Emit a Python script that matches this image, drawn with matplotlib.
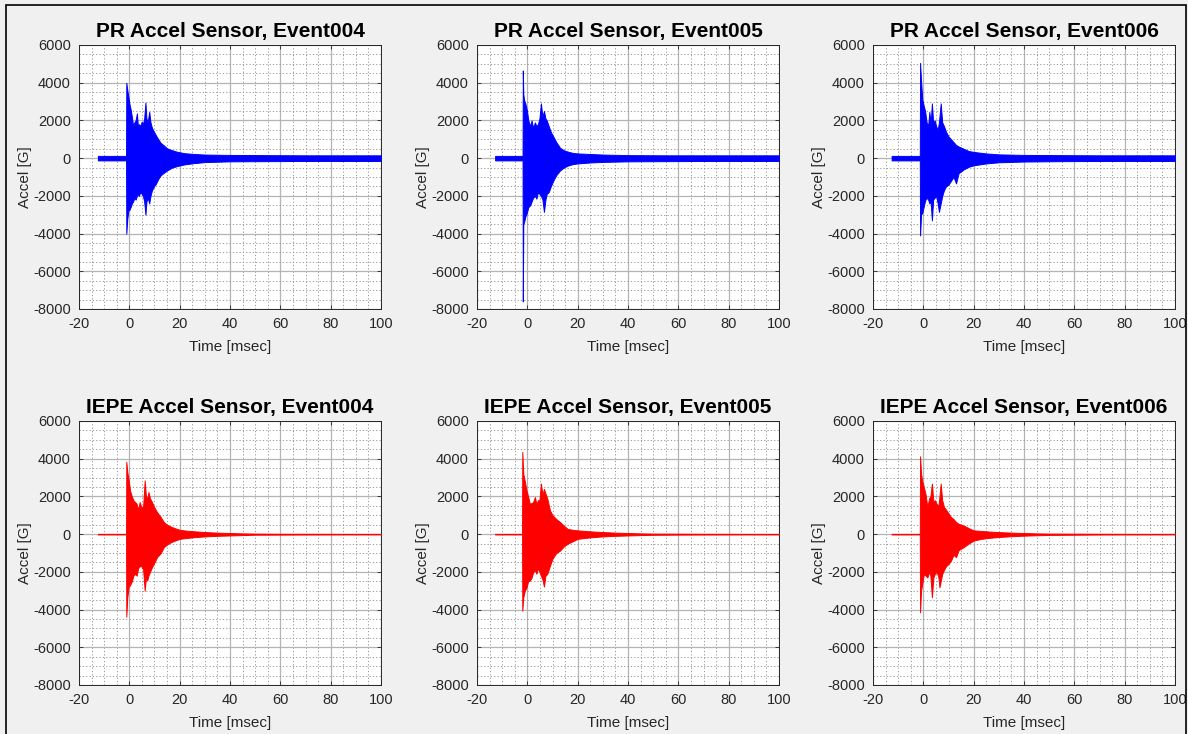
import matplotlib
matplotlib.use("Agg")
import matplotlib.pyplot as plt
from matplotlib.patches import Rectangle
from matplotlib.ticker import MultipleLocator

plt.rcParams["font.family"] = ["Liberation Sans", "DejaVu Sans"]
plt.rcParams["axes.unicode_minus"] = False

# Peak envelopes (upper / lower, in G) of each acceleration record vs time [msec]
pr004_t = [-12.5, -1.3, -1.2, -0.8, -0.4, 0.0, 0.5, 1.0, 1.5, 2.0, 2.5, 3.0, 3.4, 3.8, 4.3, 4.9,
           5.4, 5.9, 6.4, 6.8, 7.3, 7.9, 8.4, 9.0, 9.8, 10.6, 11.5, 12.5, 13.5, 15, 17, 19, 22, 26,
           30, 40, 55, 70, 85, 100]
pr004_up = [120, 120, 4000, 3600, 3300, 2900, 2600, 2200, 1700, 1900, 2000, 2370, 1700, 1800, 1700,
            1930, 1800, 2100, 2950, 2100, 1900, 2460, 1900, 1600, 1400, 1200, 1000, 800, 700, 520,
            420, 340, 260, 220, 190, 170, 160, 150, 150, 150]
pr004_lo = [-120, -120, -4000, -3200, -2800, -2750, -2600, -2400, -2300, -2100, -2200, -2000,
            -1900, -2000, -1800, -1900, -2000, -2300, -3000, -2300, -2100, -2400, -2000, -1700,
            -1500, -1350, -1100, -900, -800, -650, -500, -420, -330, -260, -210, -170, -160,
            -150, -150, -150]

pr005_t = [-12.8, -1.9, -1.8, -1.6, -1.3, -0.8, -0.2, 0.4, 1.1, 1.7, 2.3, 3.0, 3.6, 4.2, 4.8, 5.4,
           6.0, 6.6, 7.2, 7.7, 8.5, 9.3, 10.3, 11.5, 13, 14.5, 16, 18, 20, 25, 30, 40, 55, 70, 85,
           100]
pr005_up = [120, 120, 4650, 3400, 3100, 2900, 2550, 2000, 1700, 2000, 1600, 1900, 1700, 1800,
            2100, 2900, 2200, 2500, 2100, 2000, 1700, 1400, 1150, 850, 550, 420, 350, 280, 250,
            220, 190, 160, 150, 150, 150, 150]
pr005_lo = [-120, -120, -7600, -3500, -3400, -3100, -2900, -2600, -2500, -2300, -2100, -2000,
            -2150, -1800, -1900, -2000, -2200, -2850, -2200, -1900, -1800, -1500, -1200, -900,
            -650, -500, -400, -320, -280, -230, -200, -170, -160, -150, -150, -150]

pr006_t = [-12.6, -1.4, -1.3, -0.9, -0.4, 0.1, 0.7, 1.3, 1.9, 2.4, 2.9, 3.4, 3.9, 4.5, 5.1, 5.7,
           6.2, 6.9, 7.5, 8.2, 9.0, 10.0, 11.0, 12.0, 13.0, 14.0, 16.0, 18, 20, 25, 30, 40, 55,
           70, 85, 100]
pr006_up = [120, 120, 5050, 4100, 3100, 2800, 2500, 1900, 1700, 2450, 1800, 2900, 1900, 2000,
            1700, 1500, 1900, 2900, 1900, 1700, 1400, 1150, 1000, 850, 700, 620, 500, 380, 330,
            250, 200, 170, 160, 150, 150, 150]
pr006_lo = [-120, -120, -4100, -3000, -2900, -2600, -2250, -2100, -2200, -2400, -2300, -3300,
            -2200, -2100, -2000, -2400, -2850, -2400, -2000, -1700, -1500, -1400, -1200, -1000,
            -1340, -800, -600, -460, -380, -280, -220, -180, -160, -150, -150, -150]

iepe004_t = [-12.5, -1.3, -1.2, -0.8, -0.3, 0.3, 1.0, 1.6, 2.3, 2.9, 3.5, 4.1, 4.8, 5.5, 6.1,
             6.6, 7.1, 7.6, 8.2, 9.0, 10, 11, 12.5, 13.7, 15, 16.5, 18, 20, 23, 26, 30, 35, 40,
             45, 50, 60, 70, 85, 100]
iepe004_up = [15, 15, 3830, 3300, 2900, 2300, 2000, 1800, 1700, 1610, 1300, 1700, 1400, 1500,
              2850, 2000, 1900, 2230, 1900, 1700, 1400, 1170, 900, 640, 500, 400, 320, 230, 180,
              150, 110, 80, 60, 40, 30, 20, 20, 15, 15]
iepe004_lo = [-15, -15, -4380, -3350, -2800, -2700, -2500, -2200, -2100, -2200, -1800, -1700,
              -1700, -1900, -3000, -2300, -2460, -2200, -2000, -1750, -1500, -1220, -1000, -690,
              -550, -430, -350, -250, -200, -160, -120, -90, -70, -50, -30, -25, -20, -15, -15]

iepe005_t = [-12.8, -2.1, -2.0, -1.6, -1.0, -0.3, 0.3, 1.0, 1.7, 2.3, 3.0, 3.6, 4.2, 4.8, 5.4,
             6.0, 6.6, 7.2, 7.9, 9.0, 10, 11.5, 13, 14.5, 16, 18, 20, 23, 26, 30, 35, 40, 45, 50,
             60, 70, 85, 100]
iepe005_up = [15, 15, 4360, 3200, 2800, 2300, 2000, 1610, 1650, 1700, 1970, 1600, 1800, 1800,
              2680, 2100, 2400, 2150, 1900, 1260, 1000, 800, 640, 450, 280, 230, 200, 170, 140,
              110, 80, 60, 40, 30, 25, 20, 15, 15]
iepe005_lo = [-15, -15, -4060, -3350, -3000, -2820, -2500, -2460, -2300, -2020, -1900, -2100,
              -1800, -2000, -2200, -2400, -2780, -2200, -2110, -1670, -1300, -1000, -870, -650,
              -510, -380, -250, -200, -160, -120, -90, -70, -50, -35, -25, -20, -15, -15]

iepe006_t = [-12.6, -1.4, -1.3, -0.9, -0.4, 0.2, 0.9, 1.6, 2.3, 2.8, 3.4, 4.0, 4.6, 5.3, 6.0,
             6.4, 6.9, 7.5, 8.2, 9.0, 10.0, 11.0, 12.0, 13.0, 14.0, 16.0, 18, 20, 23, 26, 30, 35,
             40, 45, 50, 60, 70, 85, 100]
iepe006_up = [15, 15, 4130, 3210, 2800, 2500, 2100, 1440, 1900, 2000, 2680, 1700, 1800, 1600,
              1500, 2000, 2680, 1800, 1440, 1300, 1100, 900, 800, 640, 550, 460, 320, 200, 170,
              140, 110, 80, 60, 40, 30, 25, 20, 15, 15]
iepe006_lo = [-15, -15, -4150, -3000, -2600, -2110, -2200, -2300, -2000, -2200, -3350, -2300,
              -2100, -2000, -2300, -2820, -2500, -2110, -1900, -1700, -1580, -1400, -1100, -1220,
              -850, -690, -500, -340, -250, -200, -150, -110, -80, -60, -40, -30, -20, -15, -15]

titles = ["PR Accel Sensor, Event004", "PR Accel Sensor, Event005", "PR Accel Sensor, Event006",
          "IEPE Accel Sensor, Event004", "IEPE Accel Sensor, Event005",
          "IEPE Accel Sensor, Event006"]
x_ticks = [-20, 0, 20, 40, 60, 80, 100]
y_ticks = [-8000, -6000, -4000, -2000, 0, 2000, 4000, 6000]

records = [
    (pr004_t, pr004_up, pr004_lo, "#0000ff"),
    (pr005_t, pr005_up, pr005_lo, "#0000ff"),
    (pr006_t, pr006_up, pr006_lo, "#0000ff"),
    (iepe004_t, iepe004_up, iepe004_lo, "#ff0000"),
    (iepe005_t, iepe005_up, iepe005_lo, "#ff0000"),
    (iepe006_t, iepe006_up, iepe006_lo, "#ff0000"),
]

W, H = 1188, 734
fig = plt.figure(figsize=(W / 100, H / 100), dpi=100, facecolor="#f0f0f0")

col_left = [79, 477, 873]
row_top = [45, 421]
ax_w, ax_h = 302, 264

for i, (t, up, lo, color) in enumerate(records):
    r, c = divmod(i, 3)
    left = col_left[c] / W
    bottom = 1 - (row_top[r] + ax_h) / H
    ax = fig.add_axes([left, bottom, ax_w / W, ax_h / H])
    ax.set_facecolor("white")

    ax.fill_between(t, lo, up, color=color, linewidth=0.7, edgecolor=color, zorder=3)

    ax.set_xlim(-20, 100)
    ax.set_ylim(-8000, 6000)
    ax.set_xticks(x_ticks)
    ax.set_yticks(y_ticks)
    ax.xaxis.set_minor_locator(MultipleLocator(5))
    ax.yaxis.set_minor_locator(MultipleLocator(500))
    ax.grid(which="major", color="#b4b4b4", linewidth=0.9, linestyle="-", zorder=0)
    ax.grid(which="minor", color="#8c8c8c", linewidth=0.6, linestyle=(0, (1.5, 2.5)), zorder=0)
    ax.set_axisbelow(True)

    ax.tick_params(which="major", direction="in", length=3, width=0.6, top=True, right=True,
                   labelsize=10.5, colors="#262626", pad=6)
    ax.tick_params(which="minor", length=0)
    for s in ax.spines.values():
        s.set_color("#262626")
        s.set_linewidth(0.7)

    ax.set_title(titles[i], fontsize=15, fontweight="bold", color="black", pad=6)
    ax.set_xlabel("Time [msec]", fontsize=11, color="#262626", labelpad=6)
    ax.set_ylabel("Accel [G]", fontsize=11, color="#262626", labelpad=1)

fig.add_artist(Rectangle((5.5 / W, -0.01), (1185.5 - 5.5) / W, 1 - 4.5 / H + 0.01,
                         transform=fig.transFigure, fill=False, edgecolor="black", linewidth=1.2))

fig.savefig("out.png", dpi=100, facecolor=fig.get_facecolor())
